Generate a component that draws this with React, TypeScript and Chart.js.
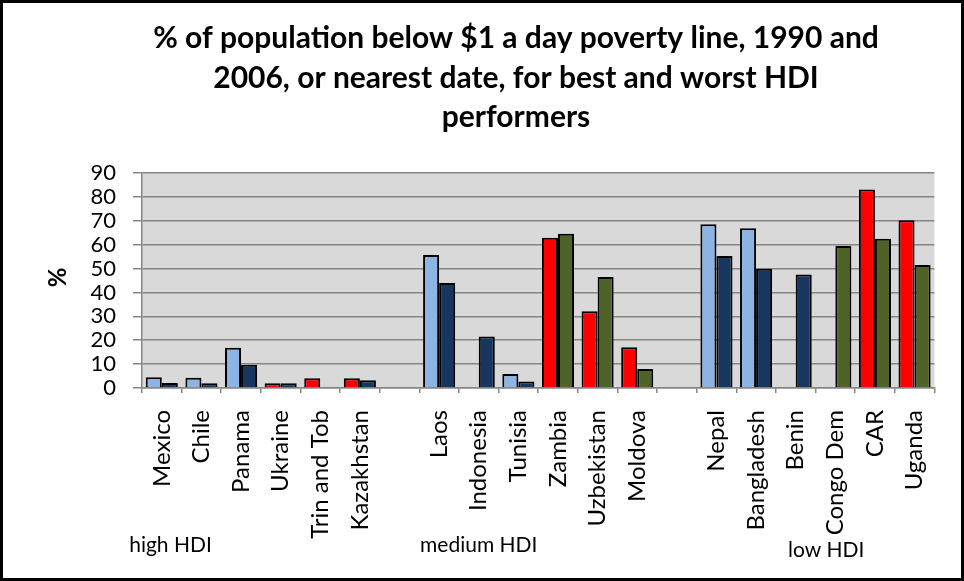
import React, { useEffect, useRef } from "react";
import { Chart, registerables } from "chart.js";

Chart.register(...registerables);

const titleLines = [
  "% of population below $1 a day poverty line, 1990 and",
  "2006, or nearest date, for best and worst HDI",
  "performers",
];

const categories = [
  "Mexico", "Chile", "Panama", "Ukraine", "Trin and Tob", "Kazakhstan", "",
  "Laos", "Indonesia", "Tunisia", "Zambia", "Uzbekistan", "Moldova", "",
  "Nepal", "Bangladesh", "Benin", "Congo Dem", "CAR", "Uganda",
];

const values1990 = [
  4.5, 4.3, 16.8, 2.0, 4.1, 4.1, null,
  55.7, null, 5.9, 62.9, 32.1, 17.1, null,
  68.5, 66.9, null, null, 83.1, 70.2,
];

const values2006 = [
  2.1, 2.0, 9.7, 2.0, null, 3.2, null,
  44.0, 21.6, 2.7, 64.6, 46.5, 8.0, null,
  55.3, 49.9, 47.5, 59.4, 62.5, 51.5,
];

// performer group of each bar: "best" or "worst"
const kind1990 = [
  "best", "best", "best", "worst", "worst", "worst", "best",
  "best", "best", "best", "worst", "worst", "worst", "best",
  "best", "best", "best", "worst", "worst", "worst",
];
const kind2006 = [
  "best", "best", "best", "best", "best", "best", "best",
  "best", "best", "best", "worst", "worst", "worst", "best",
  "best", "best", "best", "worst", "worst", "worst",
];

const groupLabels = ["high HDI", "medium HDI", "low HDI"];
const groupLabelIndex = [0.22, 8.0, 16.77];
const groupLabelBaseline = [549, 549, 554];

const COLORS: Record<string, Record<string, string>> = {
  "1990": { best: "#8DB4E2", worst: "#FF0000" },
  "2006": { best: "#17375E", worst: "#4F6228" },
};

const FONT = "Lato, 'Open Sans', sans-serif";

export default function App() {
  const canvasRef = useRef<HTMLCanvasElement | null>(null);

  useEffect(() => {
    document.body.style.margin = "0";
    const canvas = canvasRef.current;
    if (!canvas) return;

    const decor = {
      id: "decor",
      beforeDraw(chart: any) {
        const { ctx, chartArea } = chart;
        ctx.save();
        ctx.fillStyle = "#D9D9D9";
        ctx.fillRect(
          chartArea.left,
          chartArea.top,
          chartArea.right - chartArea.left,
          chartArea.bottom - chartArea.top
        );
        ctx.restore();
      },
      afterDraw(chart: any) {
        const { ctx, chartArea } = chart;
        ctx.save();
        ctx.fillStyle = "#000";
        ctx.textAlign = "center";
        ctx.textBaseline = "alphabetic";
        ctx.font = `bold 30px ${FONT}`;
        const baselines = [45, 84.5, 124];
        titleLines.forEach((t, i) => ctx.fillText(t, 513, baselines[i]));

        // y axis title
        ctx.save();
        ctx.translate(55, (chartArea.top + chartArea.bottom) / 2 - 3);
        ctx.rotate(-Math.PI / 2);
        ctx.font = `bold 24px ${FONT}`;
        ctx.textBaseline = "middle";
        ctx.fillText("%", 0, 0);
        ctx.restore();

        // group labels
        const xs = chart.scales.x;
        ctx.font = `21px ${FONT}`;
        ctx.textBaseline = "alphabetic";
        groupLabels.forEach((g, i) => {
          const x = xs.getPixelForValue(groupLabelIndex[i]);
          ctx.fillText(g, x, groupLabelBaseline[i]);
        });
        ctx.restore();
      },
    };

    const chart = new Chart(canvas, {
      type: "bar",
      data: {
        labels: categories,
        datasets: [
          {
            label: "1990",
            data: values1990 as any,
            backgroundColor: kind1990.map((k) => COLORS["1990"][k]),
            borderColor: "#000",
            borderWidth: 2,
            categoryPercentage: 0.81,
            barPercentage: 1,
          },
          {
            label: "2006",
            data: values2006 as any,
            backgroundColor: kind2006.map((k) => COLORS["2006"][k]),
            borderColor: "#000",
            borderWidth: 2,
            categoryPercentage: 0.81,
            barPercentage: 1,
          },
        ],
      },
      options: {
        animation: false,
        responsive: false,
        maintainAspectRatio: false,
        layout: { padding: { top: 170, right: 26, bottom: 0, left: 0 } },
        plugins: {
          legend: { display: false },
          title: { display: false },
          tooltip: { enabled: false },
        },
        scales: {
          x: {
            grid: {
              offset: true,
              drawOnChartArea: false,
              drawTicks: true,
              tickLength: 5,
              color: "#868686",
              lineWidth: 1.5,
            },
            border: { display: true, color: "#868686", width: 1.5 },
            ticks: {
              autoSkip: false,
              maxRotation: 90,
              minRotation: 90,
              padding: 17,
              color: "#000",
              font: { family: FONT, size: 24 },
            },
            afterFit: (s: any) => {
              s.height = 190;
            },
          },
          y: {
            min: 0,
            max: 90,
            grid: {
              color: "#868686",
              lineWidth: 1.5,
              tickLength: 9,
            },
            border: { display: true, color: "#868686", width: 1.5 },
            ticks: {
              stepSize: 10,
              autoSkip: false,
              padding: 17,
              color: "#000",
              font: { family: FONT, size: 22 },
            },
            afterFit: (s: any) => {
              s.width = 139;
            },
          },
        },
      },
      plugins: [decor],
    });

    return () => chart.destroy();
  }, []);

  return (
    <div
      style={{
        position: "fixed",
        left: 0,
        top: 0,
        width: 964,
        height: 581,
        boxSizing: "border-box",
        border: "3px solid #000",
        background: "#fff",
      }}
    >
      <canvas ref={canvasRef} width={958} height={575} style={{ display: "block" }} />
    </div>
  );
}
